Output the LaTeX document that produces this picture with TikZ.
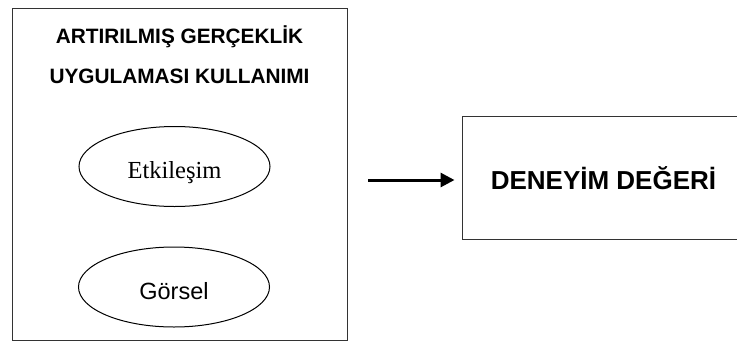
\documentclass[tikz,border=0pt]{standalone}
\usepackage{fontspec}
\setmainfont{Liberation Serif}
\newfontfamily\arial{Liberation Sans}
\usetikzlibrary{shapes.geometric,arrows.meta}

\begin{document}
\begin{tikzpicture}[x=1pt, y=-1pt, >={Triangle[length=14pt,width=14pt]},
    cadre/.style={draw=black!80, line width=1pt, rectangle, inner sep=0pt},
    oval/.style={draw, line width=1pt, ellipse, inner sep=0pt, minimum width=191pt, minimum height=80pt},
    txt/.style={inner sep=0pt, anchor=base}]
	\useasboundingbox (0,0) rectangle (737,349);

	% Boîte de gauche
	\node[cadre, minimum width=335pt, minimum height=332pt] (AR) at (179.5,174) {};
	\node[txt, font=\arial\bfseries\fontsize{20.8}{24}\selectfont] (T1) at (179.5,43) {ARTIRILMIŞ GERÇEKLİK};
	\node[txt, font=\arial\bfseries\fontsize{20.8}{24}\selectfont] (T2) at (179.5,83) {UYGULAMASI KULLANIMI};

	% Ellipses
	\node[oval] (ETKO) at (174.5,166.5) {};
	\node[txt, font=\fontsize{24.5}{28}\selectfont] (ETK) at (174.5,178) {Etkileşim};
	\node[oval] (GORO) at (174,287) {};
	\node[txt, font=\arial\fontsize{23.5}{27}\selectfont] (GOR) at (174,299) {Görsel};

	% Boîte de droite (coupée au bord)
	\node[cadre, minimum width=283pt, minimum height=123pt] (DEGER) at (603.5,177.5) {};
	\node[txt, font=\arial\bfseries\fontsize{26}{30}\selectfont] (DEGT) at (603.5,189) {DENEYİM DEĞERİ};

	% Flèche
	\coordinate (DEP) at (368,180);
	\draw[->, line width=3pt, shorten >=7pt] (DEP) -- (DEP -| DEGER.west);

\end{tikzpicture}
\end{document}
